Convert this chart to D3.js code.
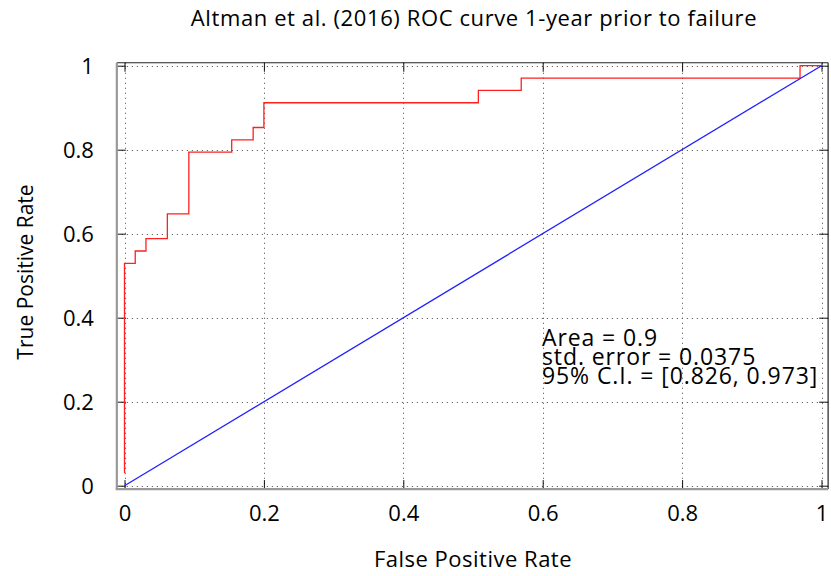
<!DOCTYPE html>
<html>
<head>
	<meta charset="utf-8">
	<script src="https://cdn.jsdelivr.net/npm/d3@7"></script>
	<style>
		body { margin: 0; background: #fff; }
		text { font-family: 'Open Sans', 'Noto Sans', sans-serif; fill: #000; }
	</style>
</head>
<body>
<script>
	// ROC step points (false positive rate, true positive rate)
	var fpr = [0, 0, 0.0154, 0.0308, 0.0615, 0.0923, 0.1538, 0.1846, 0.2, 0.5077, 0.5692, 0.9692, 1];
	var tpr = [0.0294, 0.5294, 0.5588, 0.5882, 0.6471, 0.7941, 0.8235, 0.8529, 0.9118, 0.9412, 0.9706, 1, 1];
	// reference diagonal
	var diagX = [0, 1];
	var diagY = [0, 1];
	var xTicks = [0, 0.2, 0.4, 0.6, 0.8, 1];
	var yTicks = [0, 0.2, 0.4, 0.6, 0.8, 1];
	var statLines = ["Area = 0.9", "std. error = 0.0375", "95% C.I. = [0.826, 0.973]"];

	var W = 831, H = 576;

	var x = d3.scaleLinear().domain([0, 1]).range([124.5, 821.5]);
	var y = d3.scaleLinear().domain([0, 1]).range([485.7, 65.7]);

	// plot box is a bit wider than [0,1]
	var bx0 = x(-0.011), bx1 = x(1.0095),
		by0 = y(-0.008), by1 = y(1.007);

	var svg = d3.select("body").append("svg")
		.attr("width", W)
		.attr("height", H);

	// grid
	var grid = svg.append("g")
		.attr("stroke", "#444")
		.attr("stroke-width", 1)
		.attr("stroke-dasharray", "1,4");
	grid.selectAll(".gx").data(xTicks).enter().append("line")
		.attr("x1", d => Math.round(x(d)) + 0.5).attr("x2", d => Math.round(x(d)) + 0.5)
		.attr("y1", by1).attr("y2", by0);
	grid.selectAll(".gy").data(yTicks).enter().append("line")
		.attr("y1", d => Math.round(y(d)) + 0.5).attr("y2", d => Math.round(y(d)) + 0.5)
		.attr("x1", bx0).attr("x2", bx1);

	// axes (ticks point inward)
	var xAxis = svg.append("g")
		.attr("transform", "translate(0," + by0 + ")")
		.call(d3.axisBottom(x).tickValues(xTicks).tickSize(-9).tickPadding(28).tickFormat(d => d));
	var xTop = svg.append("g")
		.attr("transform", "translate(0," + by1 + ")")
		.call(d3.axisTop(x).tickValues(xTicks).tickSize(-9).tickFormat(""));
	var yAxis = svg.append("g")
		.attr("transform", "translate(" + bx0 + ",0)")
		.call(d3.axisLeft(y).tickValues(yTicks).tickSize(-9).tickPadding(23).tickFormat(d => d));
	var yRight = svg.append("g")
		.attr("transform", "translate(" + bx1 + ",0)")
		.call(d3.axisRight(y).tickValues(yTicks).tickSize(-9).tickFormat(""));

	svg.selectAll(".domain").remove();
	svg.selectAll(".tick line").attr("stroke", "#111");
	xAxis.selectAll("text").attr("font-size", 22).attr("font-family", "'Open Sans', sans-serif").attr("fill", "#000").attr("dy", "0.2em");
	yAxis.selectAll("text").attr("font-size", 22).attr("font-family", "'Open Sans', sans-serif").attr("fill", "#000").attr("dy", "0.36em");

	// border: top/right dark, left/bottom grey
	svg.append("line").attr("x1", bx0).attr("x2", bx1).attr("y1", by1).attr("y2", by1)
		.attr("stroke", "#222").attr("stroke-width", 1.2);
	svg.append("line").attr("x1", bx1).attr("x2", bx1).attr("y1", by1).attr("y2", by0)
		.attr("stroke", "#222").attr("stroke-width", 1.2);
	svg.append("line").attr("x1", bx0).attr("x2", bx0).attr("y1", by1).attr("y2", by0 + 1)
		.attr("stroke", "#999").attr("stroke-width", 2.2);
	svg.append("line").attr("x1", bx0 - 1).attr("x2", bx1).attr("y1", by0).attr("y2", by0)
		.attr("stroke", "#999").attr("stroke-width", 2.2);

	// ROC curve
	var rocLine = d3.line()
		.x(d => x(d[0]))
		.y(d => y(d[1]))
		.curve(d3.curveStepAfter);
	svg.append("path")
		.datum(fpr.map((f, i) => [f, tpr[i]]))
		.attr("d", rocLine)
		.attr("fill", "none")
		.attr("stroke", "#ff2020")
		.attr("stroke-width", 1.3);

	// chance line
	svg.append("path")
		.datum(diagX.map((f, i) => [f, diagY[i]]))
		.attr("d", d3.line().x(d => x(d[0])).y(d => y(d[1])))
		.attr("fill", "none")
		.attr("stroke", "#2020ff")
		.attr("stroke-width", 1.3);

	// stats text (lines sit tight, as in the original)
	svg.append("g").selectAll("text")
		.data(statLines).enter().append("text")
		.attr("x", 542)
		.attr("y", (d, i) => 346 + i * 19)
		.attr("font-size", 23)
		.attr("letter-spacing", 0.9)
		.text(d => d);

	// title and axis labels
	svg.append("text")
		.attr("x", 474).attr("y", 26)
		.attr("text-anchor", "middle")
		.attr("font-size", 22)
		.attr("letter-spacing", 0.6)
		.text("Altman et al. (2016) ROC curve 1-year prior to failure");
	svg.append("text")
		.attr("x", 473).attr("y", 567)
		.attr("text-anchor", "middle")
		.attr("font-size", 22)
		.attr("letter-spacing", 0.5)
		.text("False Positive Rate");
	svg.append("text")
		.attr("transform", "translate(33,272) rotate(-90)")
		.attr("text-anchor", "middle")
		.attr("font-size", 21)
		.text("True Positive Rate");
</script>
</body>
</html>
